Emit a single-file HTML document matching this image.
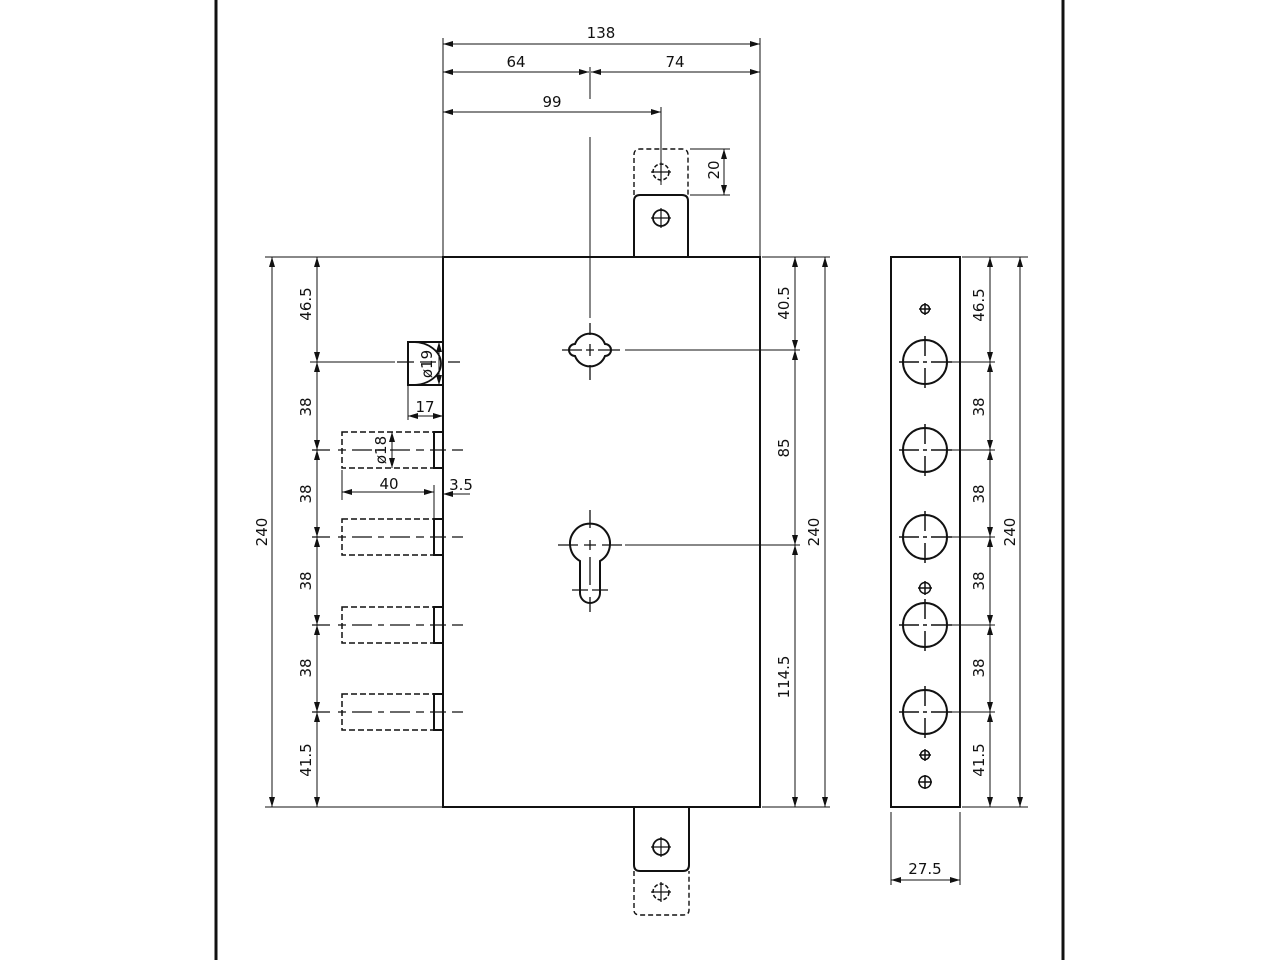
<!DOCTYPE html>
<html><head><meta charset="utf-8"><style>
html,body{margin:0;padding:0;background:#fff;}
svg{display:block;}
text{font-family:"DejaVu Sans","Liberation Sans",sans-serif;font-size:15px;fill:#111;}
</style></head><body>
<svg width="1280" height="960" viewBox="0 0 1280 960" xmlns="http://www.w3.org/2000/svg">
<defs>
<marker id="a" viewBox="0 0 10 6" refX="10" refY="3" markerWidth="10" markerHeight="6" orient="auto-start-reverse" markerUnits="userSpaceOnUse"><path d="M0,0 L10,3 L0,6z" fill="#111"/></marker>
</defs>
<g stroke="#111" fill="none">
<line x1="216" y1="0" x2="216" y2="960" stroke-width="3"/>
<line x1="1063" y1="0" x2="1063" y2="960" stroke-width="3"/>

<rect x="443" y="257" width="317" height="550" stroke-width="2"/>
<path d="M634,257 V201 Q634,195 640,195 H682 Q688,195 688,201 V257" stroke-width="2"/>
<path d="M634,195 V155 Q634,149 640,149 H682 Q688,149 688,155 V195" stroke-width="1.4" stroke-dasharray="5,3"/>
<circle cx="661" cy="218" r="8" stroke-width="1.8"/>
<path d="M651,218 H671 M661,208 V228" stroke-width="1.2"/>
<circle cx="661" cy="172" r="8" stroke-width="1.5" stroke-dasharray="4,2"/>
<path d="M651,172 H671 M661,162 V182" stroke-width="1.2"/>
<path d="M634,807 V865 Q634,871 640,871 H683 Q689,871 689,865 V807" stroke-width="2"/>
<path d="M634,871 V910 Q634,915 640,915 H683 Q689,915 689,910 V871" stroke-width="1.4" stroke-dasharray="5,3"/>
<circle cx="661" cy="847" r="8" stroke-width="1.8"/>
<path d="M651,847 H671 M661,837 V857" stroke-width="1.2"/>
<circle cx="661" cy="892" r="8" stroke-width="1.5" stroke-dasharray="4,2"/>
<path d="M651,892 H671 M661,882 V902" stroke-width="1.2"/>

<g stroke-width="1">
<line x1="443" y1="38" x2="443" y2="257"/>
<line x1="760" y1="38" x2="760" y2="257"/>
<line x1="443" y1="44" x2="760" y2="44" marker-start="url(#a)" marker-end="url(#a)"/>
<line x1="443" y1="72" x2="589" y2="72" marker-start="url(#a)" marker-end="url(#a)"/>
<line x1="591" y1="72" x2="760" y2="72" marker-start="url(#a)" marker-end="url(#a)"/>
<line x1="590" y1="67" x2="590" y2="99"/>
<line x1="443" y1="112" x2="661" y2="112" marker-start="url(#a)" marker-end="url(#a)"/>
<line x1="661" y1="107" x2="661" y2="185"/>
<line x1="590" y1="137" x2="590" y2="318"/>
<line x1="690" y1="149" x2="730" y2="149"/>
<line x1="690" y1="195" x2="730" y2="195"/>
<line x1="724" y1="149" x2="724" y2="195" marker-start="url(#a)" marker-end="url(#a)"/>
</g>

<!-- keyhole 1 -->
<path d="M575,344 A16,16 0 0 1 605,344 A6,6 0 0 1 605,356 A16,16 0 0 1 575,356 A6,6 0 0 1 575,344 Z" stroke-width="2"/>
<path d="M562,350 H582 M586,350 H594 M598,350 H620 M590,323 V335 M590,344 V356 M590,365 V380" stroke-width="1.3"/>
<line x1="625" y1="350" x2="800" y2="350" stroke-width="1"/>
<path d="M580,561 A20,20 0 1 1 600,561 V593 A10,10 0 0 1 580,593 Z" stroke-width="2"/>
<path d="M558,545 H578 M584,545 H596 M602,545 H622 M590,510 V528 M590,540 V550 M590,557 V585 M590,597 V612 M572,590 H588 M592,590 H608" stroke-width="1.3"/>
<line x1="625" y1="545" x2="800" y2="545" stroke-width="1"/>

<g stroke-width="1">
<line x1="762" y1="257" x2="830" y2="257"/>
<line x1="762" y1="807" x2="830" y2="807"/>
<line x1="795" y1="257" x2="795" y2="350" marker-start="url(#a)" marker-end="url(#a)"/>
<line x1="795" y1="350" x2="795" y2="545" marker-start="url(#a)" marker-end="url(#a)"/>
<line x1="795" y1="545" x2="795" y2="807" marker-start="url(#a)" marker-end="url(#a)"/>
<line x1="825" y1="257" x2="825" y2="807" marker-start="url(#a)" marker-end="url(#a)"/>
</g>

<g stroke-width="1">
<line x1="265" y1="257" x2="443" y2="257"/>
<line x1="265" y1="807" x2="443" y2="807"/>
<line x1="272" y1="257" x2="272" y2="807" marker-start="url(#a)" marker-end="url(#a)"/>
<line x1="317" y1="257" x2="317" y2="362" marker-start="url(#a)" marker-end="url(#a)"/>
<line x1="317" y1="362" x2="317" y2="450" marker-start="url(#a)" marker-end="url(#a)"/>
<line x1="317" y1="450" x2="317" y2="537" marker-start="url(#a)" marker-end="url(#a)"/>
<line x1="317" y1="537" x2="317" y2="625" marker-start="url(#a)" marker-end="url(#a)"/>
<line x1="317" y1="625" x2="317" y2="712" marker-start="url(#a)" marker-end="url(#a)"/>
<line x1="317" y1="712" x2="317" y2="807" marker-start="url(#a)" marker-end="url(#a)"/>
<line x1="310" y1="362" x2="395" y2="362"/>
</g>
<rect x="408" y="342" width="35" height="43" stroke-width="2"/>
<path d="M413,342 A28,21.5 0 0 1 413,385" stroke-width="1.8"/>
<path d="M397,362 H414 M420,362 H436 M448,362 H460" stroke-width="1.3"/>
<line x1="439" y1="342" x2="439" y2="385" stroke-width="1" marker-start="url(#a)" marker-end="url(#a)"/>
<line x1="408" y1="385" x2="408" y2="420" stroke-width="1"/>
<line x1="408" y1="416" x2="443" y2="416" stroke-width="1" marker-start="url(#a)" marker-end="url(#a)"/>

<g>
<g id="b1">
<rect x="342" y="432" width="92" height="36" stroke-width="1.5" stroke-dasharray="6,3"/>
<rect x="434" y="432" width="9" height="36" stroke-width="2"/>
<path d="M312,450 H330 M338,450 H346 M352,450 H372 M378,450 H384 M390,450 H410 M416,450 H424 M430,450 H446 M452,450 H463" stroke-width="1.3"/>
</g>
<use href="#b1" y="87"/>
<use href="#b1" y="175"/>
<use href="#b1" y="262"/>
</g>
<line x1="392" y1="432" x2="392" y2="468" stroke-width="1" marker-start="url(#a)" marker-end="url(#a)"/>
<line x1="342" y1="470" x2="342" y2="500" stroke-width="1"/>
<line x1="342" y1="492" x2="434" y2="492" stroke-width="1" marker-start="url(#a)" marker-end="url(#a)"/>
<line x1="434" y1="485" x2="434" y2="518" stroke-width="1"/>
<line x1="470" y1="494" x2="443" y2="494" stroke-width="1" marker-end="url(#a)"/>

<rect x="891" y="257" width="69" height="550" stroke-width="2"/>
<g stroke-width="2">
<circle cx="925" cy="362" r="22"/><circle cx="925" cy="450" r="22"/><circle cx="925" cy="537" r="22"/><circle cx="925" cy="625" r="22"/><circle cx="925" cy="712" r="22"/>
</g>
<g stroke-width="1.5">
<path d="M899,362 H919 M923,362 H927 M931,362 H952 M925,336 V356 M925,368 V388"/>
<path d="M899,450 H919 M923,450 H927 M931,450 H952 M925,424 V444 M925,456 V476"/>
<path d="M899,537 H919 M923,537 H927 M931,537 H952 M925,511 V531 M925,543 V563"/>
<path d="M899,625 H919 M923,625 H927 M931,625 H952 M925,599 V619 M925,631 V651"/>
<path d="M899,712 H919 M923,712 H927 M931,712 H952 M925,686 V706 M925,718 V738"/>
<circle cx="925" cy="309" r="4.5"/><path d="M919,309 H931 M925,303 V315"/>
<circle cx="925" cy="588" r="5.5"/><path d="M918,588 H932 M925,581 V595"/>
<circle cx="925" cy="755" r="4.5"/><path d="M919,755 H931 M925,749 V761"/>
<circle cx="925" cy="782" r="6"/><path d="M918,782 H932 M925,775 V789"/>
</g>
<g stroke-width="1">
<line x1="962" y1="257" x2="1028" y2="257"/>
<line x1="962" y1="807" x2="1028" y2="807"/>
<line x1="947" y1="362" x2="995" y2="362"/><line x1="947" y1="450" x2="995" y2="450"/><line x1="947" y1="537" x2="995" y2="537"/><line x1="947" y1="625" x2="995" y2="625"/><line x1="947" y1="712" x2="995" y2="712"/>
<line x1="990" y1="257" x2="990" y2="362" marker-start="url(#a)" marker-end="url(#a)"/>
<line x1="990" y1="362" x2="990" y2="450" marker-start="url(#a)" marker-end="url(#a)"/>
<line x1="990" y1="450" x2="990" y2="537" marker-start="url(#a)" marker-end="url(#a)"/>
<line x1="990" y1="537" x2="990" y2="625" marker-start="url(#a)" marker-end="url(#a)"/>
<line x1="990" y1="625" x2="990" y2="712" marker-start="url(#a)" marker-end="url(#a)"/>
<line x1="990" y1="712" x2="990" y2="807" marker-start="url(#a)" marker-end="url(#a)"/>
<line x1="1020" y1="257" x2="1020" y2="807" marker-start="url(#a)" marker-end="url(#a)"/>
<line x1="891" y1="812" x2="891" y2="885"/>
<line x1="960" y1="812" x2="960" y2="885"/>
<line x1="891" y1="880" x2="960" y2="880" marker-start="url(#a)" marker-end="url(#a)"/>
</g>
</g>

<text x="601" y="38" text-anchor="middle">138</text>
<text x="516" y="67" text-anchor="middle">64</text>
<text x="675" y="67" text-anchor="middle">74</text>
<text x="552" y="107" text-anchor="middle">99</text>
<text transform="translate(719,170) rotate(-90)" text-anchor="middle">20</text>
<text transform="translate(789,303) rotate(-90)" text-anchor="middle">40.5</text>
<text transform="translate(789,448) rotate(-90)" text-anchor="middle">85</text>
<text transform="translate(789,677) rotate(-90)" text-anchor="middle">114.5</text>
<text transform="translate(819,532) rotate(-90)" text-anchor="middle">240</text>
<text transform="translate(267,532) rotate(-90)" text-anchor="middle">240</text>
<text transform="translate(311,304) rotate(-90)" text-anchor="middle">46.5</text>
<text transform="translate(311,407) rotate(-90)" text-anchor="middle">38</text>
<text transform="translate(311,494) rotate(-90)" text-anchor="middle">38</text>
<text transform="translate(311,581) rotate(-90)" text-anchor="middle">38</text>
<text transform="translate(311,668) rotate(-90)" text-anchor="middle">38</text>
<text transform="translate(311,760) rotate(-90)" text-anchor="middle">41.5</text>
<text transform="translate(432,364) rotate(-90)" text-anchor="middle">ø19</text>
<text x="425" y="412" text-anchor="middle">17</text>
<text transform="translate(386,450) rotate(-90)" text-anchor="middle">ø18</text>
<text x="389" y="489" text-anchor="middle">40</text>
<text x="461" y="490" text-anchor="middle">3.5</text>
<text transform="translate(984,305) rotate(-90)" text-anchor="middle">46.5</text>
<text transform="translate(984,407) rotate(-90)" text-anchor="middle">38</text>
<text transform="translate(984,494) rotate(-90)" text-anchor="middle">38</text>
<text transform="translate(984,581) rotate(-90)" text-anchor="middle">38</text>
<text transform="translate(984,668) rotate(-90)" text-anchor="middle">38</text>
<text transform="translate(984,760) rotate(-90)" text-anchor="middle">41.5</text>
<text transform="translate(1015,532) rotate(-90)" text-anchor="middle">240</text>
<text x="925" y="874" text-anchor="middle">27.5</text>
</svg>
</body></html>
